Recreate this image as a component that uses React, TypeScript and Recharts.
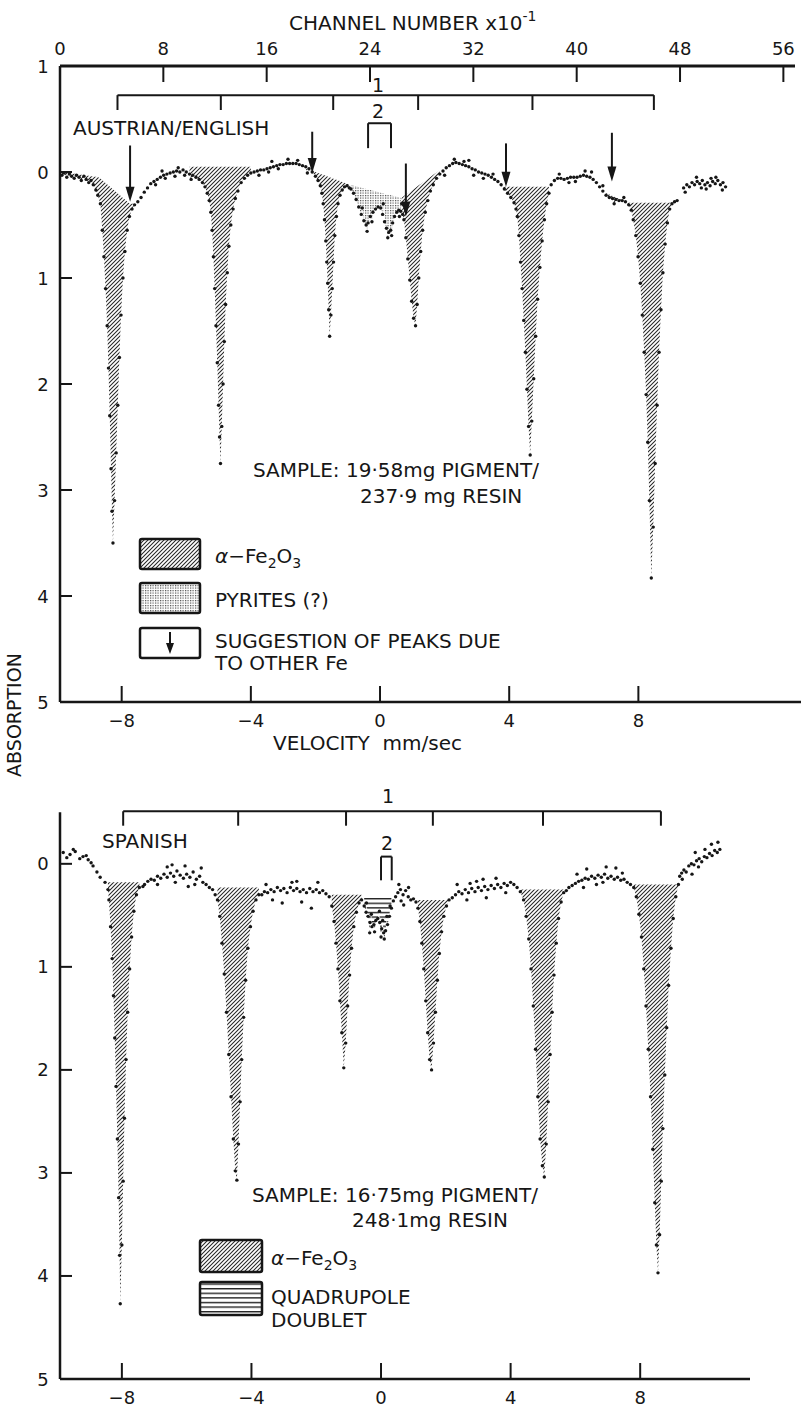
import React from 'react'
import { ComposedChart, XAxis, YAxis, Scatter, Area, ReferenceLine } from 'recharts'

type Pt = [number, number]

// Austrian / English pigment: [velocity mm/sec, absorption]
const TOP_POINTS: Pt[] = [
  [-9.85, 0.03], [-9.78, 0.01], [-9.7, 0.05], [-9.62, 0.02], [-9.55, 0.04], [-9.47, 0.06], [-9.4, 0.03], [-9.32, 0.05],
  [-9.25, 0.08], [-9.17, 0.04], [-9.1, 0.07], [-9.02, 0.1], [-8.95, 0.08], [-8.88, 0.12], [-8.8, 0.17], [-8.74, 0.22],
  [-8.66, 0.3], [-8.6, 0.55], [-8.55, 0.8], [-8.5, 1.1], [-8.45, 1.45], [-8.41, 1.85], [-8.37, 2.3], [-8.33, 2.8], [-8.3, 3.2], [-8.27, 3.5],
  [-8.22, 3.1], [-8.17, 2.65], [-8.12, 2.2], [-8.07, 1.75], [-8.02, 1.35], [-7.96, 1.0], [-7.9, 0.75], [-7.83, 0.55], [-7.76, 0.42], [-7.68, 0.35],
  [-7.6, 0.31], [-7.5, 0.28], [-7.4, 0.24], [-7.3, 0.19], [-7.2, 0.15], [-7.1, 0.11], [-7.0, 0.09], [-6.9, 0.07], [-6.8, 0.05],
  [-6.7, 0.03], [-6.6, 0.02], [-6.5, 0.01], [-6.4, 0.0], [-6.3, -0.01], [-6.2, 0.0], [-6.1, -0.02], [-6.0, 0.0], [-5.9, 0.02],
  [-5.8, 0.03], [-5.7, 0.05], [-5.6, 0.07], [-5.5, 0.1], [-5.42, 0.14], [-5.35, 0.2], [-5.29, 0.27],
  [-6.95, 0.12], [-6.65, 0.06], [-6.35, 0.04], [-6.05, 0.03], [-6.75, -0.01], [-5.85, 0.07], [-6.25, -0.04],
  [-5.24, 0.38], [-5.2, 0.55], [-5.16, 0.8], [-5.12, 1.1], [-5.08, 1.45], [-5.04, 1.8], [-5.0, 2.2], [-4.97, 2.5], [-4.94, 2.75],
  [-4.9, 2.4], [-4.86, 2.0], [-4.82, 1.6], [-4.78, 1.25], [-4.73, 0.95], [-4.68, 0.7], [-4.62, 0.5], [-4.55, 0.35], [-4.48, 0.25], [-4.4, 0.18],
  [-4.3, 0.1], [-4.2, 0.06], [-4.1, 0.03], [-4.0, 0.01], [-3.9, 0.0], [-3.8, -0.01], [-3.7, -0.02], [-3.6, -0.02], [-3.5, -0.03],
  [-3.4, -0.04], [-3.3, -0.05], [-3.2, -0.06], [-3.1, -0.07], [-3.0, -0.07], [-2.9, -0.08], [-2.8, -0.08], [-2.7, -0.08],
  [-2.6, -0.08], [-2.5, -0.07], [-2.4, -0.06], [-2.3, -0.05], [-2.2, -0.03], [-2.1, 0.0], [-2.0, 0.04], [-1.92, 0.08], [-1.85, 0.13], [-1.8, 0.2],
  [-3.75, 0.03], [-3.45, 0.0], [-3.15, -0.03], [-2.85, -0.12], [-2.55, -0.11], [-2.25, 0.01], [-3.35, -0.1],
  [-1.76, 0.3], [-1.72, 0.45], [-1.68, 0.65], [-1.65, 0.85], [-1.62, 1.05], [-1.59, 1.3], [-1.56, 1.55],
  [-1.52, 1.35], [-1.48, 1.1], [-1.44, 0.85], [-1.4, 0.6], [-1.35, 0.42], [-1.3, 0.3], [-1.24, 0.22], [-1.17, 0.17], [-1.1, 0.14], [-1.02, 0.13], [-0.95, 0.15],
  [-0.9, 0.16], [-0.82, 0.2], [-0.74, 0.26], [-0.66, 0.33], [-0.58, 0.4], [-0.5, 0.46], [-0.43, 0.5], [-0.37, 0.48], [-0.3, 0.42],
  [-0.22, 0.38], [-0.14, 0.35], [-0.06, 0.33], [0.02, 0.34], [0.08, 0.4], [0.14, 0.47], [0.2, 0.53], [0.27, 0.57], [0.33, 0.55],
  [0.39, 0.48], [0.45, 0.42], [0.52, 0.38], [0.58, 0.36], [0.64, 0.37],
  [-0.4, 0.56], [-0.25, 0.47], [0.24, 0.62], [0.36, 0.6], [0.6, 0.42], [0.67, 0.3], [0.7, 0.4], [-0.55, 0.34], [0.1, 0.3],
  [0.74, 0.45], [0.8, 0.62], [0.86, 0.82], [0.92, 1.02], [0.98, 1.22], [1.04, 1.38], [1.1, 1.45],
  [1.15, 1.25], [1.2, 1.0], [1.26, 0.75], [1.32, 0.55], [1.4, 0.38], [1.48, 0.27], [1.56, 0.18], [1.65, 0.12],
  [1.75, 0.06], [1.85, 0.02], [1.95, -0.01], [2.05, -0.04], [2.15, -0.06], [2.25, -0.08], [2.35, -0.09], [2.45, -0.08], [2.55, -0.07],
  [2.65, -0.06], [2.75, -0.05], [2.85, -0.03], [2.95, -0.02], [3.05, 0.0], [3.15, 0.01], [3.25, 0.02], [3.35, 0.03], [3.45, 0.05],
  [3.55, 0.07], [3.65, 0.09], [3.75, 0.12], [3.85, 0.16], [3.95, 0.2], [4.05, 0.24], [4.15, 0.29], [4.21, 0.35],
  [2.3, -0.12], [2.6, -0.1], [2.9, 0.03], [3.2, 0.06], [3.5, 0.02], [2.0, 0.03], [2.75, -0.11],
  [4.25, 0.42], [4.3, 0.6], [4.35, 0.85], [4.4, 1.1], [4.45, 1.4], [4.5, 1.7], [4.55, 2.05], [4.6, 2.4], [4.65, 2.67],
  [4.7, 2.35], [4.76, 1.95], [4.82, 1.55], [4.88, 1.2], [4.95, 0.9], [5.02, 0.65], [5.09, 0.45], [5.16, 0.3], [5.23, 0.2],
  [5.3, 0.12], [5.4, 0.08], [5.5, 0.06], [5.6, 0.06], [5.7, 0.07], [5.8, 0.06], [5.9, 0.05], [6.0, 0.05], [6.1, 0.05], [6.2, 0.04],
  [6.3, 0.03], [6.4, 0.04], [6.5, 0.05], [6.6, 0.07], [6.7, 0.1], [6.8, 0.14], [6.9, 0.18], [7.0, 0.22], [7.1, 0.24], [7.2, 0.25],
  [7.3, 0.26], [7.4, 0.27], [7.5, 0.27], [7.6, 0.28], [7.7, 0.31], [7.78, 0.36],
  [5.55, 0.02], [6.05, 0.09], [6.35, -0.01], [6.9, 0.13], [7.25, 0.3], [7.55, 0.24], [5.85, 0.1], [6.55, 0.0],
  [7.84, 0.45], [7.92, 0.6], [7.99, 0.8], [8.06, 1.05], [8.12, 1.35], [8.18, 1.7], [8.24, 2.1], [8.29, 2.55], [8.34, 3.1], [8.4, 3.83],
  [8.46, 3.35], [8.52, 2.75], [8.58, 2.2], [8.64, 1.7], [8.7, 1.3], [8.76, 0.95], [8.83, 0.68], [8.9, 0.48], [8.97, 0.35],
  [9.04, 0.3], [9.12, 0.28], [9.2, 0.27],
  [9.4, 0.15], [9.5, 0.12], [9.58, 0.14], [9.66, 0.1], [9.74, 0.12], [9.82, 0.09], [9.9, 0.11], [9.98, 0.08], [10.06, 0.12],
  [10.14, 0.1], [10.22, 0.13], [10.3, 0.09], [10.38, 0.11], [10.46, 0.08], [10.54, 0.12], [10.62, 0.1], [10.7, 0.14],
  [9.45, 0.19], [9.8, 0.05], [10.1, 0.16], [10.4, 0.05], [10.6, 0.17], [9.95, 0.15], [10.25, 0.06],
]

// upper edges of the shaded lobes
const TOP_ALPHA_EDGE: Pt[][] = [
  [[-9.85, 0.0], [-8.7, 0.05], [-7.75, 0.3], [-7.55, 0.3]],
  [[-5.95, -0.05], [-4.0, -0.05]],
  [[-2.45, -0.05], [-0.93, 0.12]],
  [[0.66, 0.245], [1.86, -0.02]],
  [[3.7, 0.14], [5.25, 0.14]],
  [[7.0, 0.2], [7.7, 0.29], [9.25, 0.29]],
]
const TOP_PYRITE_EDGE: Pt[][] = [[[-0.93, 0.12], [0.66, 0.245]]]

const TOP_ARROWS = [
  { v: -7.74, from: -0.25, to: 0.28 },
  { v: -2.1, from: -0.38, to: 0.01 },
  { v: 0.8, from: -0.08, to: 0.42 },
  { v: 3.9, from: -0.27, to: 0.14 },
  { v: 7.18, from: -0.37, to: 0.09 },
]
const TOP_SEXTET = [-8.13, -4.93, -1.45, 1.18, 4.72, 8.48]
const TOP_DOUBLET = [-0.37, 0.34]

// Spanish pigment
const BOT_POINTS: Pt[] = [
  [-9.81, -0.11], [-9.7, -0.06], [-9.6, -0.09], [-9.5, -0.14], [-9.44, -0.12], [-9.3, -0.05], [-9.2, -0.07], [-9.1, -0.08],
  [-9.04, -0.04], [-8.95, -0.01], [-8.89, 0.02], [-8.77, 0.08], [-8.67, 0.13], [-8.52, 0.18], [-8.43, 0.25],
  [-8.4, 0.35], [-8.35, 0.61], [-8.3, 0.92], [-8.26, 1.28], [-8.22, 1.69], [-8.18, 2.16], [-8.14, 2.67], [-8.1, 3.24], [-8.07, 3.8], [-8.05, 4.27],
  [-8.0, 3.7], [-7.96, 3.08], [-7.92, 2.47], [-7.87, 1.9], [-7.82, 1.44], [-7.76, 1.02], [-7.7, 0.71], [-7.63, 0.46], [-7.55, 0.3], [-7.46, 0.23],
  [-7.35, 0.22], [-7.3, 0.2], [-7.2, 0.17], [-7.1, 0.15], [-7.0, 0.16], [-6.9, 0.12], [-6.8, 0.14], [-6.7, 0.1], [-6.6, 0.13],
  [-6.5, 0.09], [-6.4, 0.12], [-6.3, 0.07], [-6.2, 0.11], [-6.1, 0.14], [-6.0, 0.1], [-5.9, 0.13], [-5.8, 0.08], [-5.7, 0.15],
  [-5.6, 0.12], [-5.5, 0.18], [-5.4, 0.2], [-5.3, 0.23], [-5.2, 0.25], [-5.12, 0.3],
  [-6.9, 0.2], [-6.6, 0.03], [-6.35, 0.18], [-6.05, 0.02], [-5.75, 0.2], [-5.55, 0.04], [-6.45, 0.01], [-5.95, 0.22],
  [-5.05, 0.35], [-4.98, 0.51], [-4.91, 0.77], [-4.84, 1.07], [-4.77, 1.44], [-4.7, 1.85], [-4.63, 2.26], [-4.56, 2.67], [-4.5, 2.98], [-4.45, 3.07],
  [-4.4, 2.72], [-4.35, 2.31], [-4.3, 1.9], [-4.24, 1.49], [-4.18, 1.13], [-4.11, 0.82], [-4.03, 0.61], [-3.95, 0.46], [-3.86, 0.35], [-3.77, 0.3],
  [-3.68, 0.3], [-3.6, 0.27], [-3.5, 0.28], [-3.4, 0.25], [-3.3, 0.27], [-3.2, 0.23], [-3.1, 0.26], [-3.0, 0.24], [-2.9, 0.28],
  [-2.8, 0.23], [-2.7, 0.26], [-2.6, 0.24], [-2.5, 0.27], [-2.4, 0.25], [-2.3, 0.28], [-2.2, 0.24], [-2.1, 0.27], [-2.0, 0.25],
  [-1.9, 0.28], [-1.8, 0.26], [-1.7, 0.29], [-1.6, 0.32],
  [-3.35, 0.35], [-3.05, 0.38], [-2.75, 0.18], [-2.45, 0.37], [-2.15, 0.43], [-1.95, 0.18], [-2.6, 0.17], [-3.55, 0.2],
  [-1.52, 0.41], [-1.45, 0.56], [-1.39, 0.77], [-1.33, 1.02], [-1.27, 1.33], [-1.21, 1.64], [-1.15, 1.98],
  [-1.09, 1.74], [-1.03, 1.38], [-0.97, 1.08], [-0.91, 0.82], [-0.84, 0.61], [-0.76, 0.47], [-0.68, 0.38],
  [-0.6, 0.35], [-0.52, 0.41], [-0.46, 0.47], [-0.4, 0.51], [-0.34, 0.57], [-0.28, 0.61], [-0.22, 0.59], [-0.16, 0.55],
  [-0.1, 0.53], [-0.04, 0.57], [0.02, 0.63], [0.08, 0.67], [0.14, 0.65], [0.2, 0.59], [0.26, 0.51], [0.32, 0.43], [0.38, 0.36],
  [-0.45, 0.38], [-0.3, 0.49], [-0.2, 0.66], [-0.05, 0.46], [0.05, 0.55], [0.1, 0.73], [0.18, 0.51], [0.28, 0.41], [-0.35, 0.67], [0.0, 0.71],
  [0.45, 0.32], [0.52, 0.28], [0.6, 0.25], [0.68, 0.3], [0.76, 0.26], [0.84, 0.32], [0.92, 0.35], [1.0, 0.34], [1.08, 0.37],
  [0.55, 0.2], [0.7, 0.4], [0.85, 0.23], [0.62, 0.36],
  [1.14, 0.43], [1.2, 0.56], [1.26, 0.77], [1.32, 1.02], [1.38, 1.33], [1.44, 1.64], [1.5, 1.9], [1.56, 2.0],
  [1.62, 1.74], [1.68, 1.44], [1.74, 1.13], [1.8, 0.87], [1.87, 0.66], [1.94, 0.51], [2.02, 0.41], [2.1, 0.35],
  [2.2, 0.33], [2.3, 0.3], [2.4, 0.27], [2.5, 0.29], [2.6, 0.25], [2.7, 0.28], [2.8, 0.24], [2.9, 0.27], [3.0, 0.23], [3.1, 0.26],
  [3.2, 0.22], [3.3, 0.25], [3.4, 0.21], [3.5, 0.24], [3.6, 0.2], [3.7, 0.23], [3.8, 0.19], [3.9, 0.21], [4.0, 0.18], [4.1, 0.2],
  [4.2, 0.23], [4.3, 0.27],
  [2.35, 0.2], [2.65, 0.35], [2.95, 0.17], [3.25, 0.33], [3.55, 0.14], [3.85, 0.28], [3.15, 0.15], [2.75, 0.19],
  [4.4, 0.35], [4.48, 0.51], [4.56, 0.73], [4.63, 1.02], [4.7, 1.38], [4.77, 1.8], [4.84, 2.26], [4.91, 2.67], [4.98, 2.93], [5.04, 3.04],
  [5.1, 2.72], [5.16, 2.31], [5.22, 1.85], [5.28, 1.44], [5.34, 1.08], [5.41, 0.77], [5.48, 0.53], [5.56, 0.37], [5.64, 0.28],
  [5.72, 0.26], [5.8, 0.23], [5.9, 0.21], [6.0, 0.19], [6.1, 0.17], [6.2, 0.16], [6.3, 0.14], [6.4, 0.15], [6.5, 0.12], [6.6, 0.14],
  [6.7, 0.11], [6.8, 0.13], [6.9, 0.1], [7.0, 0.14], [7.1, 0.12], [7.2, 0.15], [7.3, 0.13], [7.4, 0.16], [7.5, 0.15], [7.6, 0.18],
  [7.7, 0.2], [7.8, 0.23],
  [6.05, 0.1], [6.35, 0.05], [6.65, 0.2], [6.95, 0.03], [7.25, 0.04], [7.45, 0.09], [6.25, 0.23], [6.85, 0.18],
  [7.88, 0.32], [7.96, 0.49], [8.04, 0.71], [8.11, 1.02], [8.18, 1.38], [8.25, 1.8], [8.32, 2.26], [8.39, 2.77], [8.45, 3.29], [8.5, 3.7], [8.55, 3.97],
  [8.6, 3.6], [8.65, 3.08], [8.7, 2.57], [8.76, 2.05], [8.82, 1.59], [8.88, 1.18], [8.95, 0.82], [9.02, 0.53], [9.1, 0.32],
  [9.18, 0.2], [9.22, 0.12], [9.28, 0.09], [9.35, 0.06], [9.42, 0.08], [9.5, 0.02], [9.58, 0.0], [9.66, 0.01], [9.74, -0.03],
  [9.82, -0.05], [9.9, -0.02], [9.98, -0.07], [10.06, -0.06], [10.14, -0.1], [10.22, -0.08], [10.3, -0.13], [10.38, -0.11], [10.46, -0.14],
  [9.3, 0.15], [9.6, 0.1], [9.8, 0.03], [10.0, -0.14], [10.2, -0.19], [10.4, -0.21], [9.7, -0.11],
]

const BOT_ALPHA_EDGE: Pt[][] = [
  [[-8.5, 0.18], [-7.4, 0.18]],
  [[-5.1, 0.23], [-3.7, 0.23]],
  [[-1.55, 0.3], [-0.56, 0.3]],
  [[1.1, 0.35], [2.15, 0.35]],
  [[4.3, 0.25], [5.7, 0.25]],
  [[7.8, 0.2], [9.2, 0.2]],
]
const BOT_QUAD_EDGE: Pt[][] = [[[-0.56, 0.33], [0.37, 0.33]]]
const BOT_SEXTET = [-7.96, -4.41, -1.08, 1.6, 5.0, 8.64]
const BOT_DOUBLET = [0.0, 0.33]

const VEL_TICKS = [-8, -4, 0, 4, 8]
const CHANNEL_TICKS = [0, 8, 16, 24, 32, 40, 48, 56]
const TOP_ABS_TICKS = [-1, 0, 1, 2, 3, 4, 5]
const BOT_ABS_TICKS = [0, 1, 2, 3, 4, 5]

const INK = '#161616'
const FONT = '"DejaVu Sans", sans-serif'

function edgeAt(segs: Pt[][], v: number): number | null {
  for (const s of segs) {
    for (let i = 0; i < s.length - 1; i++) {
      const [v0, a0] = s[i]
      const [v1, a1] = s[i + 1]
      if (v >= v0 && v <= v1) return a0 + ((a1 - a0) * (v - v0)) / (v1 - v0)
    }
  }
  return null
}

function buildRows(points: Pt[], alpha: Pt[][], other: Pt[][]) {
  return [...points]
    .sort((p, q) => p[0] - q[0])
    .map(([v, a]) => {
      const b1 = edgeAt(alpha, v)
      const b2 = edgeAt(other, v)
      return {
        v,
        a,
        alpha: b1 == null ? null : [b1, Math.max(b1, a)],
        other: b2 == null ? null : [b2, Math.max(b2, a)],
      }
    })
}

const topRows = buildRows(TOP_POINTS, TOP_ALPHA_EDGE, TOP_PYRITE_EDGE)
const botRows = buildRows(BOT_POINTS, BOT_ALPHA_EDGE, BOT_QUAD_EDGE)

const fmtVel = (v: number) => (v < 0 ? '\u2212' + Math.abs(v) : String(v))

const Dot = (p: any) => <circle cx={p.cx} cy={p.cy} r={1.7} fill={INK} />

const Arrow = (p: any) => {
  const { x1, y1, x2, y2 } = p
  return (
    <g>
      <line x1={x1} y1={y1} x2={x2} y2={y2 - 10} stroke={INK} strokeWidth={2} />
      <path d={`M${x2 - 4.5},${y2 - 15} L${x2 + 4.5},${y2 - 15} L${x2},${y2} Z`} fill={INK} />
    </g>
  )
}

const ChannelTick = ({ x, y, payload }: any) => (
  <g>
    <line x1={x} y1={y} x2={x} y2={y + 16} stroke={INK} strokeWidth={2} />
    <text x={x} y={y - 11} textAnchor="middle" fontSize={18} fontFamily={FONT} fill={INK}>
      {payload.value}
    </text>
  </g>
)

const VelTick = ({ x, y, payload }: any) => (
  <g>
    <line x1={x} y1={y} x2={x} y2={y - 16} stroke={INK} strokeWidth={2} />
    <text x={x} y={y + 25} textAnchor="middle" fontSize={18} fontFamily={FONT} fill={INK}>
      {fmtVel(payload.value)}
    </text>
  </g>
)

const AbsTick = ({ x, y, payload }: any) => (
  <g>
    <line x1={x} y1={y} x2={x + 12} y2={y} stroke={INK} strokeWidth={2} />
    <text x={x - 17} y={y + 6.5} textAnchor="middle" fontSize={18} fontFamily={FONT} fill={INK}>
      {Math.abs(payload.value)}
    </text>
  </g>
)

function bracket(id: string, lines: number[], level: number, drop: number) {
  const first = lines[0]
  const last = lines[lines.length - 1]
  return [
    <ReferenceLine key={id + 'h'} xAxisId="vel" ifOverflow="visible" stroke={INK} strokeWidth={2}
      segment={[{ x: first, y: level }, { x: last, y: level }]} />,
    ...lines.map((v, i) => (
      <ReferenceLine key={id + i} xAxisId="vel" ifOverflow="visible" stroke={INK} strokeWidth={2}
        segment={[{ x: v, y: level }, { x: v, y: level + drop }]} />
    )),
  ]
}

// plot box: x 60..795, y 66..702
function TopChart() {
  return (
    <ComposedChart width={801} height={760} data={topRows} margin={{ top: 26, right: 6, bottom: 18, left: 10 }}>
      <XAxis xAxisId="vel" dataKey="v" type="number" domain={[-9.91, 12.85]} allowDataOverflow ticks={VEL_TICKS}
        interval={0} height={40} tickSize={0} tickMargin={0} tickLine={false}
        axisLine={{ stroke: INK, strokeWidth: 2.5 }} tick={<VelTick />} />
      <XAxis xAxisId="ch" dataKey="ch" type="number" orientation="top" domain={[0, 56.9]} allowDataOverflow
        ticks={CHANNEL_TICKS} interval={0} height={40} tickSize={0} tickMargin={0} tickLine={false}
        axisLine={{ stroke: INK, strokeWidth: 3 }} tick={<ChannelTick />} />
      <YAxis dataKey="a" type="number" domain={[-1, 5]} reversed allowDataOverflow ticks={TOP_ABS_TICKS}
        interval={0} width={50} tickSize={0} tickMargin={0} tickLine={false}
        axisLine={{ stroke: INK, strokeWidth: 2.5 }} tick={<AbsTick />} />
      <Area xAxisId="vel" dataKey="alpha" type="linear" stroke="none" fill="url(#hatchP)" fillOpacity={1}
        isAnimationActive={false} connectNulls={false} dot={false} activeDot={false} />
      <Area xAxisId="vel" dataKey="other" type="linear" stroke="none" fill="url(#dotsP)" fillOpacity={1}
        isAnimationActive={false} connectNulls={false} dot={false} activeDot={false} />
      <Scatter xAxisId="vel" dataKey="a" data={topRows} shape={Dot} isAnimationActive={false} />
      {bracket('s1', TOP_SEXTET, -0.725, 0.14)}
      {bracket('s2', TOP_DOUBLET, -0.46, 0.235)}
      {TOP_ARROWS.map((a, i) => (
        <ReferenceLine key={'ar' + i} xAxisId="vel" ifOverflow="visible" shape={Arrow}
          segment={[{ x: a.v, y: a.from }, { x: a.v, y: a.to }]} />
      ))}
    </ComposedChart>
  )
}

// plot box: x 60..750, y 802..1379 (page)
function BottomChart() {
  return (
    <ComposedChart width={801} height={650} data={botRows} margin={{ top: 42, right: 51, bottom: 1, left: 10 }}>
      <XAxis xAxisId="vel" dataKey="v" type="number" domain={[-9.91, 11.39]} allowDataOverflow ticks={VEL_TICKS}
        interval={0} height={30} tickSize={0} tickMargin={0} tickLine={false}
        axisLine={{ stroke: INK, strokeWidth: 2.5 }} tick={<VelTick />} />
      <YAxis dataKey="a" type="number" domain={[-0.6, 5]} reversed allowDataOverflow ticks={BOT_ABS_TICKS}
        interval={0} width={50} tickSize={0} tickMargin={0} tickLine={false} axisLine={false} tick={<AbsTick />} />
      <ReferenceLine xAxisId="vel" ifOverflow="visible" stroke={INK} strokeWidth={2.5}
        segment={[{ x: -9.91, y: -0.5 }, { x: -9.91, y: 5 }]} />
      <Area xAxisId="vel" dataKey="alpha" type="linear" stroke="none" fill="url(#hatchP)" fillOpacity={1}
        isAnimationActive={false} connectNulls={false} dot={false} activeDot={false} />
      <Area xAxisId="vel" dataKey="other" type="linear" stroke="none" fill="url(#linesP)" fillOpacity={1}
        isAnimationActive={false} connectNulls={false} dot={false} activeDot={false} />
      <Scatter xAxisId="vel" dataKey="a" data={botRows} shape={Dot} isAnimationActive={false} />
      {bracket('b1', BOT_SEXTET, -0.51, 0.14)}
      {bracket('b2', BOT_DOUBLET, -0.07, 0.23)}
    </ComposedChart>
  )
}

const T = (props: any) => <text fontFamily={FONT} fontSize={20} fill={INK} {...props} />

const AlphaLabel = ({ x, y }: { x: number; y: number }) => (
  <T x={x} y={y}>
    <tspan fontStyle="italic">α</tspan>
    <tspan>−Fe</tspan>
    <tspan fontSize={14} dy={5}>2</tspan>
    <tspan dy={-5}>O</tspan>
    <tspan fontSize={14} dy={5}>3</tspan>
  </T>
)

export default function App() {
  return (
    <div style={{ position: 'absolute', left: 0, top: 0, width: 801, height: 1410, background: '#fff', overflow: 'hidden' }}>
      <svg width={0} height={0} style={{ position: 'absolute' }}>
        <defs>
          <pattern id="hatchP" width={4} height={4} patternUnits="userSpaceOnUse">
            <path d="M-1,1 l2,-2 M0,4 l4,-4 M3,5 l2,-2" stroke="#262626" strokeWidth={1.05} />
          </pattern>
          <pattern id="dotsP" width={2.5} height={2.5} patternUnits="userSpaceOnUse">
            <rect x={0} y={0} width={1.2} height={1.2} fill="#4a4a4a" />
          </pattern>
          <pattern id="linesP" width={6} height={4.6} patternUnits="userSpaceOnUse">
            <rect x={0} y={0} width={6} height={1.4} fill="#222" />
          </pattern>
        </defs>
      </svg>
      <div style={{ position: 'absolute', left: 0, top: 0 }}>
        <TopChart />
      </div>
      <div style={{ position: 'absolute', left: 0, top: 760 }}>
        <BottomChart />
      </div>
      <svg width={801} height={1410} style={{ position: 'absolute', left: 0, top: 0, pointerEvents: 'none' }}>
        <T x={289} y={30}>
          CHANNEL NUMBER x10<tspan fontSize={14} dy={-9}>-1</tspan>
        </T>
        <line x1={795} y1={702} x2={801} y2={702} stroke={INK} strokeWidth={2.5} />
        <T x={73} y={135}>AUSTRIAN/ENGLISH</T>
        <T x={378} y={92} textAnchor="middle" fontSize={19}>1</T>
        <T x={378} y={118} textAnchor="middle" fontSize={19}>2</T>
        <T x={253} y={477}>SAMPLE: 19·58mg PIGMENT/</T>
        <T x={360} y={503}>237·9 mg RESIN</T>

        <rect x={140} y={539} width={60} height={30} fill="url(#hatchP)" stroke={INK} strokeWidth={2.5} rx={2} />
        <AlphaLabel x={215} y={563} />
        <rect x={140} y={583} width={60} height={30} fill="url(#dotsP)" stroke={INK} strokeWidth={2.5} rx={2} />
        <T x={215} y={607}>PYRITES (?)</T>
        <rect x={140} y={628} width={60} height={30} fill="#fff" stroke={INK} strokeWidth={2.5} rx={2} />
        <line x1={170} y1={632} x2={170} y2={645} stroke={INK} strokeWidth={2} />
        <path d="M166,643 L174,643 L170,654 Z" fill={INK} />
        <T x={215} y={648}>SUGGESTION OF PEAKS DUE</T>
        <T x={215} y={670}>TO OTHER Fe</T>

        <T x={273} y={750} style={{ whiteSpace: 'pre' }}>VELOCITY  mm/sec</T>
        <T x={21} y={715} textAnchor="middle" fontSize={19} transform="rotate(-90 21 715)">ABSORPTION</T>

        <T x={388} y={803} textAnchor="middle" fontSize={19}>1</T>
        <T x={387} y={850} textAnchor="middle" fontSize={19}>2</T>
        <T x={102} y={848}>SPANISH</T>
        <T x={252} y={1202}>SAMPLE: 16·75mg PIGMENT/</T>
        <T x={352} y={1227}>248·1mg RESIN</T>

        <rect x={200} y={1240} width={62} height={32} fill="url(#hatchP)" stroke={INK} strokeWidth={2.5} rx={2} />
        <AlphaLabel x={271} y={1265} />
        <rect x={200} y={1282} width={62} height={33} fill="url(#linesP)" stroke={INK} strokeWidth={2.5} rx={2} />
        <T x={271} y={1304}>QUADRUPOLE</T>
        <T x={271} y={1327}>DOUBLET</T>
      </svg>
    </div>
  )
}
